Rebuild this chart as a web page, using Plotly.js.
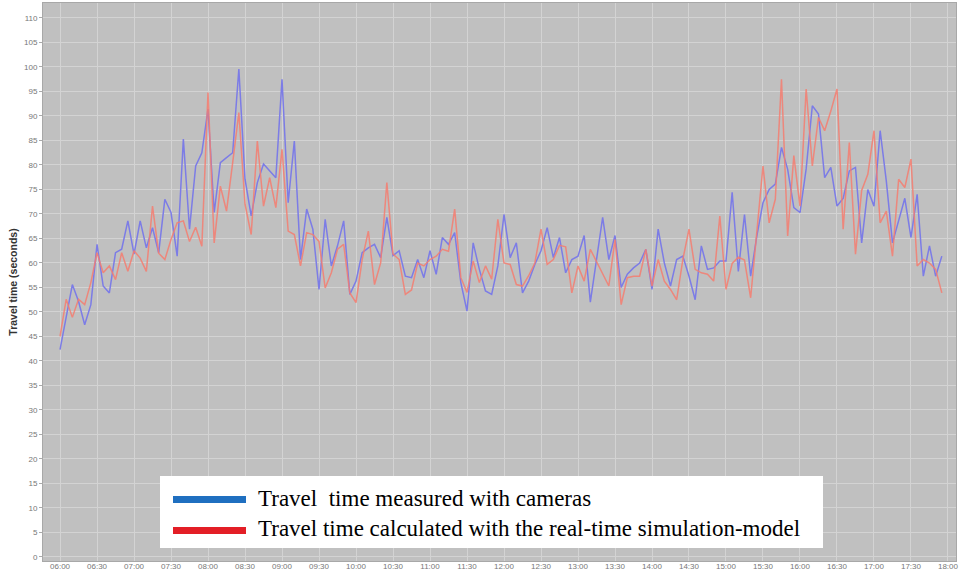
<!DOCTYPE html>
<html>
<head>
<meta charset="utf-8">
<script src="https://cdn.plot.ly/plotly-3.0.1.min.js"></script>
<style>html,body{margin:0;padding:0;background:#fff;}#chart{width:961px;height:574px;}</style>
</head>
<body>
<div id="chart"></div>
<script>
// Time axis: measurements every 5 minutes starting at 06:00
const startDay = '2000-01-01';
const startMinute = 6 * 60;
const stepMinutes = 5;

// Travel time measured with cameras (seconds)
const measured = [
 42.3, 49, 55.6, 52.2, 47.4, 51.5, 63.8, 55.3, 53.9, 62.1, 62.8, 68.6, 61.8, 68.6, 63.1, 67.2,
 62.1, 73, 70.3, 61.4, 85.3, 66.9, 79.8, 82.5, 91.4, 70.3, 80.5, 81.5, 82.5, 99.6, 77.1, 69.6,
 76.4, 80.2, 78.8, 77.4, 97.5, 72.3, 84.9, 60.7, 71, 66.9, 54.6, 68.9, 59.4, 63.5, 68.6, 53.6,
 56.3, 62.1, 63.1, 63.8, 61.1, 69.3, 61.5, 62.5, 57.3, 57, 60.7, 57, 62.5, 57.7, 65.2, 63.8,
 66.2, 56, 50.2, 64.1, 58.7, 54.3, 53.6, 59.4, 69.9, 61.1, 64.1, 53.9, 56.3, 59.7, 62.5, 67.2,
 61.1, 65.2, 58, 60.7, 61.4, 65.6, 52, 60.5, 69.3, 60.7, 65.6, 55, 57.7, 59, 60, 62.8,
 54.6, 66.9, 60, 55.3, 60.7, 61.4, 57.3, 52.5, 63.5, 58.7, 59, 60.4, 60.4, 74.4, 58.3, 69.9,
 57.3, 65.5, 72.3, 75, 76.1, 83.6, 79.1, 71.3, 70.3, 79.2, 92.1, 90.4, 77.4, 79.5, 71.6, 73.2,
 78.8, 79.5, 64.1, 75, 71.6, 87, 76.7, 64.1, 68.9, 73.2, 65.2, 74, 57.3, 63.5, 57.3, 61.4
];

// Travel time calculated with the real-time simulation model (seconds)
const simulated = [
 45, 52.6, 48.9, 52.6, 51.5, 56, 62.1, 58, 59.4, 56.6, 62.1, 58.3, 62.5, 61, 58.3, 71.6,
 62, 60.7, 64.8, 68.2, 68.6, 64.4, 67.3, 63.4, 94.8, 64.1, 75.7, 70.6, 80.5, 90.7, 72, 65.8,
 84.9, 71.6, 77.4, 71.3, 83.2, 66.5, 65.8, 59.4, 66.2, 65.8, 64.4, 54.9, 58, 62.8, 63.8, 53.9,
 51.9, 60.7, 66.5, 55.6, 60, 76.4, 61.8, 60.7, 53.6, 54.5, 60, 59.4, 60.7, 61.4, 62.8, 62.4,
 71, 57, 54, 60.4, 56, 59.4, 56.7, 68.9, 60, 59.7, 55.6, 55.3, 57.4, 60, 66.9, 59.7,
 60.7, 63.6, 63.3, 53.9, 59.4, 56.3, 62.8, 60.4, 57.7, 55.3, 64.8, 51.5, 57, 57.3, 57.3, 62.8,
 55.3, 60.7, 56.3, 54.6, 52.5, 60.7, 66.9, 58.7, 58, 57.7, 56.3, 69.6, 54.6, 59.9, 61.2, 60.6,
 52.9, 66, 79.8, 68.2, 73, 97.5, 65.5, 81.9, 71.6, 95.5, 79.8, 89.7, 87, 91, 95.5, 66.9,
 84.6, 61.8, 74.8, 78.1, 87, 68.2, 70.6, 61.4, 77.1, 75.4, 81.2, 59.4, 60.7, 60, 58.7, 53.9
];

const seriesNames = [
 'Travel  time measured with cameras',
 'Travel time calculated with the real-time simulation-model'
];

function pad(n){ return (n < 10 ? '0' : '') + n; }
const times = measured.map(function(_, i){
  const m = startMinute + i * stepMinutes;
  return startDay + ' ' + pad(Math.floor(m / 60)) + ':' + pad(m % 60);
});

const traces = [
  {x: times, y: measured, name: seriesNames[0], type: 'scatter', mode: 'lines',
   line: {color: '#7c7ce6', width: 1.5}, showlegend: false, hoverinfo: 'skip'},
  {x: times, y: simulated, name: seriesNames[1], type: 'scatter', mode: 'lines',
   line: {color: 'rgba(245,125,112,0.85)', width: 1.5}, showlegend: false, hoverinfo: 'skip'}
];

// plot area in pixels: x 43..956, y 3..561
const L = 43, R = 956, T = 3, B = 561;
function px(x){ return (x - L) / (R - L); }
function py(y){ return (B - y) / (B - T); }

const layout = {
  width: 961, height: 574,
  margin: {l: L, r: 961 - R, t: T, b: 574 - B, pad: 0},
  paper_bgcolor: '#ffffff',
  plot_bgcolor: '#c0c0c0',
  showlegend: false,
  xaxis: {
    type: 'date',
    range: ['2000-01-01 05:46:12', '2000-01-01 18:06:30'],
    tick0: '2000-01-01 06:00', dtick: 1800000, tickformat: '%H:%M',
    showgrid: true, gridcolor: '#d3d3d3', gridwidth: 1,
    ticks: '', ticklabelstandoff: -3,
    tickfont: {family: 'Liberation Sans, Arial, sans-serif', size: 8, color: '#777777'},
    showline: true, linecolor: '#a8a8a8', linewidth: 1, mirror: true,
    zeroline: false, automargin: false
  },
  yaxis: {
    range: [-0.82, 113.06], tick0: 0, dtick: 5,
    showgrid: true, gridcolor: '#d3d3d3', gridwidth: 1,
    ticks: 'outside', ticklen: 3, tickcolor: '#aaaaaa',
    tickfont: {family: 'Liberation Sans, Arial, sans-serif', size: 8, color: '#777777'},
    showline: true, linecolor: '#a8a8a8', linewidth: 1, mirror: true,
    zeroline: false, automargin: false,
    title: {text: 'Travel time (seconds)', standoff: 4,
            font: {family: 'Liberation Sans, Arial, sans-serif', size: 10.5, color: '#333333', weight: 'bold'}}
  },
  shapes: [
    {type: 'rect', xref: 'paper', yref: 'paper', x0: px(160), x1: px(823), y0: py(548), y1: py(476),
     fillcolor: '#ffffff', line: {width: 0}, layer: 'above'},
    {type: 'line', xref: 'paper', yref: 'paper', x0: px(173), x1: px(246), y0: py(499.5), y1: py(499.5),
     line: {color: '#1f6fc0', width: 7}, layer: 'above'},
    {type: 'line', xref: 'paper', yref: 'paper', x0: px(173), x1: px(246), y0: py(530.5), y1: py(530.5),
     line: {color: '#e31e26', width: 7}, layer: 'above'}
  ],
  annotations: [
    {xref: 'paper', yref: 'paper', x: px(256), y: py(498), xanchor: 'left', yanchor: 'middle',
     text: seriesNames[0], showarrow: false,
     font: {family: 'Liberation Serif, Times New Roman, serif', size: 23, color: '#000000'}},
    {xref: 'paper', yref: 'paper', x: px(256), y: py(528), xanchor: 'left', yanchor: 'middle',
     text: seriesNames[1], showarrow: false,
     font: {family: 'Liberation Serif, Times New Roman, serif', size: 23, color: '#000000'}}
  ]
};

Plotly.newPlot('chart', traces, layout, {staticPlot: true, displayModeBar: false});
</script>
</body>
</html>
